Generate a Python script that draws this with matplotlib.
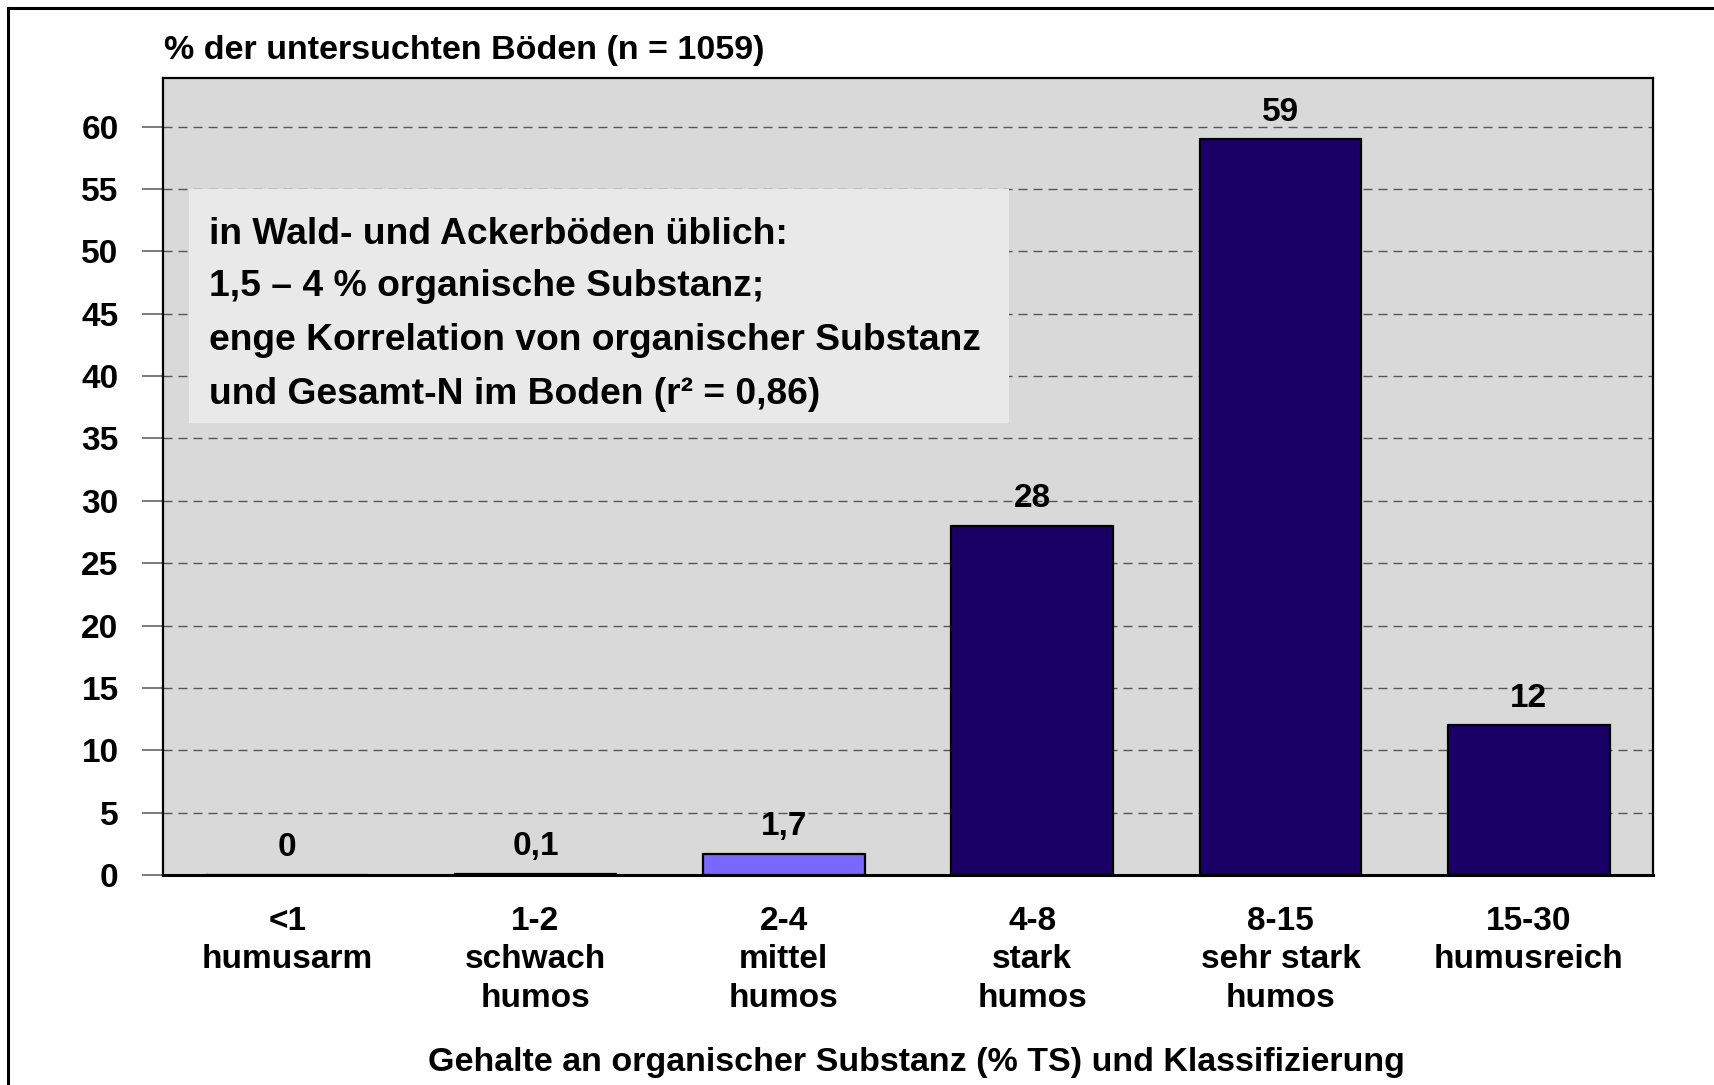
import matplotlib
matplotlib.use("Agg")
import matplotlib.pyplot as plt
from matplotlib.patches import Rectangle
from matplotlib.lines import Line2D

plt.rcParams['font.family'] = ['Liberation Sans', 'DejaVu Sans']
plt.rcParams['font.weight'] = 'bold'

categories = ["<1\nhumusarm", "1-2\nschwach\nhumos", "2-4\nmittel\nhumos",
              "4-8\nstark\nhumos", "8-15\nsehr stark\nhumos", "15-30\nhumusreich"]
values = [0, 0.1, 1.7, 28, 59, 12]
value_labels = ["0", "0,1", "1,7", "28", "59", "12"]
bar_colors = ["#1A0066", "#1A0066", "#7B66FF", "#1A0066", "#1A0066", "#1A0066"]
yticks = [0, 5, 10, 15, 20, 25, 30, 35, 40, 45, 50, 55, 60]
ylabel_text = "% der untersuchten Böden (n = 1059)"
xlabel_text = "Gehalte an organischer Substanz (% TS) und Klassifizierung"
box_lines = ["in Wald- und Ackerböden üblich:",
             "1,5 – 4 % organische Substanz;",
             "enge Korrelation von organischer Substanz",
             "und Gesamt-N im Boden (r² = 0,86)"]

W, H = 1715, 1085
fig = plt.figure(figsize=(W / 100, H / 100), dpi=100)
fig.patch.set_facecolor("white")
ax = fig.add_axes([163 / W, 1 - 875 / H, (1653 - 163) / W, (875 - 78) / H])
ax.set_facecolor("#D9D9D9")

x = list(range(len(categories)))
ax.bar(x, values, width=0.65, color=bar_colors, edgecolor="black", linewidth=1.6, zorder=3)

ax.set_xlim(-0.5, len(categories) - 0.5)
ax.set_ylim(0, 63.9)
ax.set_yticks(yticks)
ax.set_yticklabels([str(v) for v in yticks])
ax.tick_params(axis="y", length=15, width=1.2, color="#666666", pad=17, labelsize=24)
ax.set_xticks(x)
ax.set_xticklabels(categories, linespacing=1.32)
ax.tick_params(axis="x", length=0, pad=22, labelsize=24)

ax.yaxis.grid(True, linestyle=(0, (6.5, 4.3)), color="#555555", linewidth=1.0)
ax.set_axisbelow(True)
for s in ax.spines.values():
    s.set_linewidth(1.6)
    s.set_color("black")
ax.spines["bottom"].set_linewidth(2.2)

for xi, v, lab in zip(x, values, value_labels):
    ax.annotate(lab, (xi, v), xytext=(0, 19.5), textcoords="offset points",
                ha="center", va="center", fontsize=24, fontweight="bold", zorder=5)

# text box
bx0 = -0.5 + (189 - 163) / 248.33
bx1 = -0.5 + (1009 - 163) / 248.33
ax.add_patch(Rectangle((bx0, 36.2), bx1 - bx0, 55 - 36.2, facecolor="#E9E9E9",
                       edgecolor="none", zorder=2))
line_ys = [234, 286, 340, 394]
for ln, py in zip(box_lines, line_ys):
    fig.text(209 / W, 1 - py / H, ln, ha="left", va="center", fontsize=26.8,
             fontweight="bold", zorder=6)

fig.text(164 / W, 1 - 50 / H, ylabel_text, ha="left", va="center", fontsize=24.5,
         fontweight="bold")
fig.text(916 / W, 1 - 1063 / H, xlabel_text, ha="center", va="center", fontsize=24.5,
         fontweight="bold")

# outer frame (cropped at right and bottom)
fig.add_artist(Line2D([8 / W, 8 / W], [0, 1 - 8 / H], color="black", linewidth=2.2))
fig.add_artist(Line2D([8 / W, 1], [1 - 8 / H, 1 - 8 / H], color="black", linewidth=2.2))

fig.savefig("out.png", dpi=100)
